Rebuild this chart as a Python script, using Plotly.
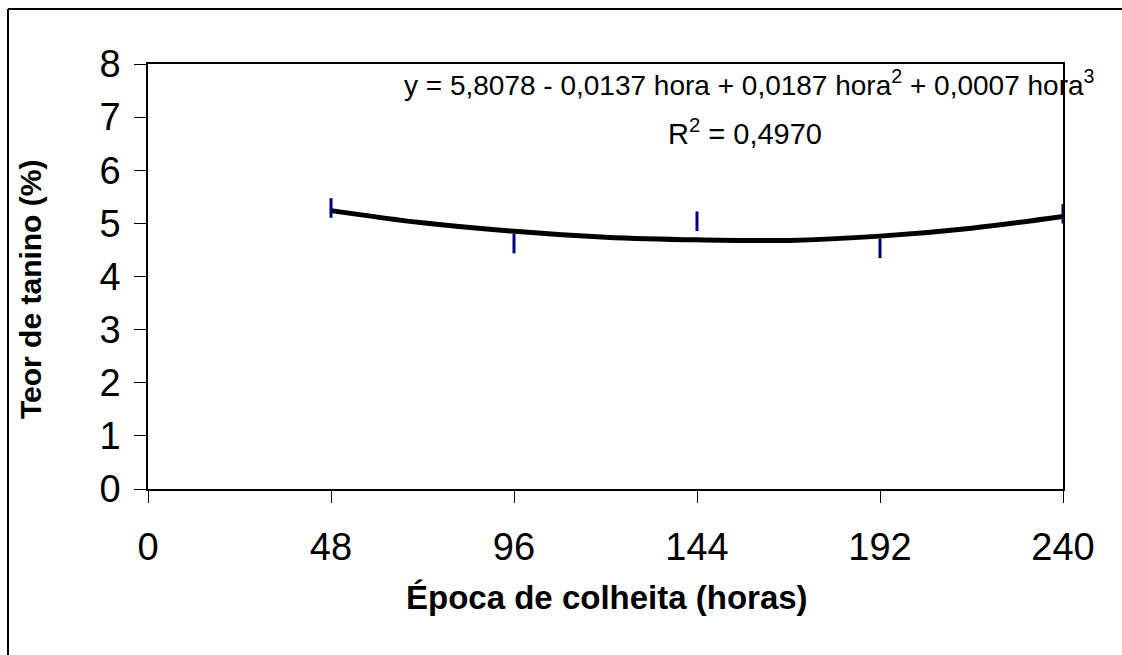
import plotly.graph_objects as go

# Observed data (harvest time in hours, tannin content %)
hours = [48, 96, 144, 192, 240]
tannin = [5.29, 4.62, 5.04, 4.53, 5.18]

# Trend line
trend_hours = [48, 72, 96, 120, 144, 168, 192, 216, 240]
trend_vals = [5.24, 5.01, 4.85, 4.74, 4.69, 4.68, 4.76, 4.91, 5.13]

x_ticks = [0, 48, 96, 144, 192, 240]
y_ticks = [0, 1, 2, 3, 4, 5, 6, 7, 8]

eq_text = "y = 5,8078 - 0,0137 hora + 0,0187 hora<sup>2</sup> + 0,0007 hora<sup>3</sup>"
r2_text = "R<sup>2</sup> = 0,4970"
x_title = "<b>Época de colheita (horas)</b>"
y_title = "<b>Teor de tanino (%)</b>"

FONT = "Liberation Sans, Arial, sans-serif"

# body margin removed below, so the figure fills the whole window
PW, PH = 1122, 655
L, T = 148, 64
R = PW - 1063
B = PH - 489

fig = go.Figure()
fig.add_trace(go.Scatter(
    x=trend_hours, y=trend_vals, mode="lines", line_shape="spline",
    line=dict(color="black", width=5), hoverinfo="skip", showlegend=False))
fig.add_trace(go.Scatter(
    x=hours, y=tannin, mode="markers",
    marker=dict(symbol="line-ns", size=14, line=dict(color="#000080", width=3)),
    showlegend=False))

fig.update_layout(
    width=PW, height=PH,
    margin=dict(l=L, r=R, t=T, b=B),
    paper_bgcolor="white", plot_bgcolor="white",
    font=dict(family=FONT, color="black", size=38),
    xaxis=dict(range=[0, 240], tickvals=x_ticks, ticks="outside", ticklen=12,
               tickcolor="black", showline=True, linecolor="black", linewidth=1.5,
               mirror=True, showgrid=False, zeroline=False,
               tickfont=dict(size=38), ticklabelstandoff=12),
    yaxis=dict(range=[0, 8], tickvals=y_ticks, ticks="outside", ticklen=12,
               tickcolor="black", showline=True, linecolor="black", linewidth=1.5,
               mirror=True, showgrid=False, zeroline=False,
               tickfont=dict(size=38), ticklabelstandoff=6),
)

fig.add_annotation(text=eq_text, xref="paper", yref="paper",
                   x=(749 - 148) / 915, y=(489 - 83) / 425, showarrow=False,
                   xanchor="center", yanchor="middle",
                   font=dict(family=FONT, size=28))
fig.add_annotation(text=r2_text, xref="paper", yref="paper",
                   x=(745 - 148) / 915, y=(489 - 132) / 425, showarrow=False,
                   xanchor="center", yanchor="middle",
                   font=dict(family=FONT, size=29))
fig.add_annotation(text=x_title, xref="paper", yref="paper",
                   x=(607 - 148) / 915, y=(489 - 597) / 425, showarrow=False,
                   xanchor="center", yanchor="middle", font=dict(size=33))
fig.add_annotation(text=y_title, xref="paper", yref="paper",
                   x=(30 - 148) / 915, y=(489 - 290) / 425, showarrow=False,
                   xanchor="center", yanchor="middle", textangle=-90, font=dict(size=30))

# outer frame: only its left and top edges fall inside the picture
fx0 = (8 - 148) / 915
fy1 = (489 - 9) / 425
fig.add_shape(type="line", xref="paper", yref="paper",
              x0=fx0, x1=fx0, y0=(489 - 700) / 425, y1=fy1,
              line=dict(color="black", width=2))
fig.add_shape(type="line", xref="paper", yref="paper",
              x0=fx0, x1=(1200 - 148) / 915, y0=fy1, y1=fy1,
              line=dict(color="black", width=2))

fig.write_html(
    "out.html",
    config={"displayModeBar": False},
    post_script="document.body.style.margin='0';document.body.style.overflow='hidden';",
)
